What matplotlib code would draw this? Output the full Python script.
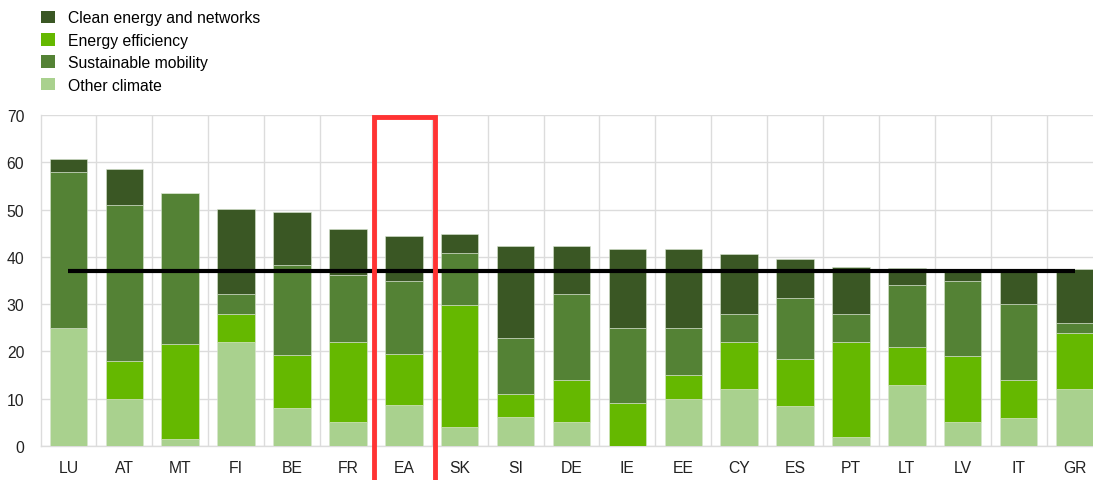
import matplotlib
matplotlib.use("Agg")
import matplotlib.pyplot as plt
from matplotlib.patches import Rectangle, Patch
import numpy as np

plt.rcParams['font.family'] = ['Liberation Sans', 'DejaVu Sans']

countries = ["LU", "AT", "MT", "FI", "BE", "FR", "EA", "SK", "SI", "DE",
             "IE", "EE", "CY", "ES", "PT", "LT", "LV", "IT", "GR"]
other_climate = [25, 10, 1.5, 22, 8, 5, 8.6, 4, 6.1, 5, 0, 10, 12, 8.5, 2, 13, 5, 6, 12]
energy_efficiency = [0, 8, 20, 6, 11.3, 16.9, 10.9, 25.9, 4.8, 9, 9, 5, 10, 10, 20, 8, 14, 8, 12]
sustainable_mobility = [33, 33, 32.1, 4.1, 18.9, 14.2, 15.3, 11, 12, 18.1, 15.9, 10, 6, 12.9, 6, 13, 16, 16, 2]
clean_energy = [2.8, 7.6, 0, 18.1, 11.3, 9.8, 9.7, 4, 19.4, 10.2, 16.7, 16.6, 12.6, 8.2, 9.8, 3.7, 2.5, 7.5, 11.5]
threshold = 37.0
highlight = "EA"

series_names = ["Clean energy and networks", "Energy efficiency", "Sustainable mobility", "Other climate"]
colors = {"Clean energy and networks": "#3A5724",
          "Energy efficiency": "#65B800",
          "Sustainable mobility": "#548235",
          "Other climate": "#A9D18E"}

fig = plt.figure(figsize=(10.93, 4.81), dpi=100)
ax = fig.add_axes([41/1093, 34/481, (1093-41)/1093, 331/481])

x = np.arange(len(countries))
w = 0.67
bottom = np.zeros(len(countries))
stack = [("Other climate", other_climate), ("Energy efficiency", energy_efficiency),
         ("Sustainable mobility", sustainable_mobility), ("Clean energy and networks", clean_energy)]
for name, vals in stack:
    v = np.array(vals, dtype=float)
    ax.bar(x, v, w, bottom=bottom, color=colors[name], edgecolor="#d9e6d0",
           linewidth=0.4, zorder=3)
    bottom += v

ax.plot([x[0], x[-1]], [threshold, threshold], color="black", lw=3, zorder=5,
        solid_capstyle="butt")

ax.set_xlim(-0.49, 18.33)
ax.set_ylim(0, 70)
ax.set_yticks(np.arange(0, 71, 10))
ax.set_xticks(x)
ax.set_xticklabels(countries)
ax.set_xticks(np.arange(len(countries) - 1) + 0.5, minor=True)
ax.grid(axis="y", color="#dcdcdc", lw=1, zorder=0)
ax.grid(axis="x", which="minor", color="#dcdcdc", lw=1, zorder=0)
ax.grid(axis="x", which="major", visible=False)
ax.tick_params(axis="both", which="both", length=0, labelsize=11.3, colors="#222222")
ax.tick_params(axis="x", pad=10)
ax.tick_params(axis="y", pad=12)
for s in ["top", "right"]:
    ax.spines[s].set_visible(False)
ax.spines["left"].set_color("#dcdcdc")
ax.spines["bottom"].set_color("#dcdcdc")
ax.spines["left"].set_linewidth(1)
ax.spines["bottom"].set_linewidth(1)

hi = countries.index(highlight)
rect = Rectangle((hi - 0.53, -9), 1.08, 78.6, fill=False, edgecolor="#FF3333",
                 lw=3.5, clip_on=False, zorder=6)
ax.add_patch(rect)

handles = [Patch(facecolor=colors[n], edgecolor="none") for n in series_names]
leg = fig.legend(handles, series_names, loc="upper left",
                 bbox_to_anchor=(32/1093, 1.0 - 2/481),
                 frameon=False, fontsize=11.3, handlelength=0.85, handleheight=0.85,
                 handletextpad=0.85, labelspacing=0.47, borderaxespad=0.2)

fig.savefig("out.png", dpi=100)
